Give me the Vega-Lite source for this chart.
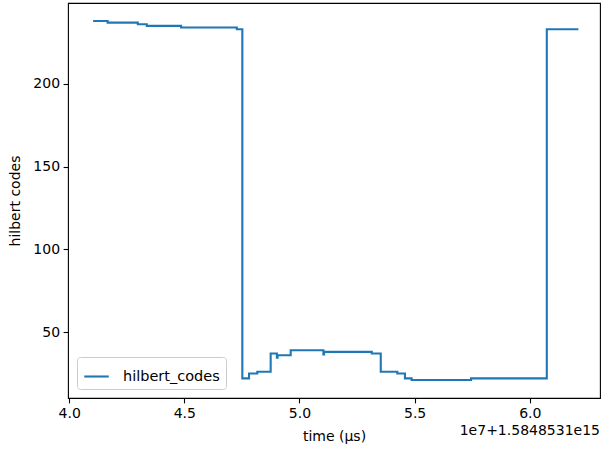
{
  "$schema": "https://vega.github.io/schema/vega-lite/v6.json",
  "width": 532,
  "height": 395,
  "autosize": "none",
  "padding": {"left": 68, "top": 3, "right": 1, "bottom": 51},
  "background": "white",
  "title": {
    "text": "1e7+1.5848531e15",
    "orient": "bottom",
    "anchor": "end",
    "offset": -19,
    "font": "DejaVu Sans",
    "fontSize": 14,
    "fontWeight": "normal",
    "color": "#000000"
  },
  "config": {
    "view": {"stroke": "#000000", "strokeWidth": 1.1},
    "font": "DejaVu Sans",
    "axis": {
      "domain": false,
      "grid": false,
      "tickColor": "#000000",
      "tickWidth": 1.1,
      "tickSize": 4.9,
      "labelFont": "DejaVu Sans",
      "labelFontSize": 14,
      "labelColor": "#000000",
      "labelPadding": 3.5,
      "titleFont": "DejaVu Sans",
      "titleFontSize": 14,
      "titleFontWeight": "normal",
      "titleColor": "#000000"
    }
  },
  "data": {
    "values": [
      {"time": 4.104, "hilbert_codes": 238, "series": "hilbert_codes"},
      {"time": 4.167, "hilbert_codes": 237, "series": "hilbert_codes"},
      {"time": 4.298, "hilbert_codes": 236, "series": "hilbert_codes"},
      {"time": 4.337, "hilbert_codes": 235, "series": "hilbert_codes"},
      {"time": 4.486, "hilbert_codes": 234, "series": "hilbert_codes"},
      {"time": 4.728, "hilbert_codes": 233, "series": "hilbert_codes"},
      {"time": 4.752, "hilbert_codes": 22, "series": "hilbert_codes"},
      {"time": 4.781, "hilbert_codes": 25, "series": "hilbert_codes"},
      {"time": 4.817, "hilbert_codes": 26, "series": "hilbert_codes"},
      {"time": 4.875, "hilbert_codes": 37, "series": "hilbert_codes"},
      {"time": 4.902, "hilbert_codes": 34.5, "series": "hilbert_codes"},
      {"time": 4.905, "hilbert_codes": 36, "series": "hilbert_codes"},
      {"time": 4.962, "hilbert_codes": 39, "series": "hilbert_codes"},
      {"time": 5.104, "hilbert_codes": 36.5, "series": "hilbert_codes"},
      {"time": 5.107, "hilbert_codes": 38, "series": "hilbert_codes"},
      {"time": 5.314, "hilbert_codes": 37, "series": "hilbert_codes"},
      {"time": 5.353, "hilbert_codes": 26, "series": "hilbert_codes"},
      {"time": 5.425, "hilbert_codes": 25, "series": "hilbert_codes"},
      {"time": 5.458, "hilbert_codes": 22, "series": "hilbert_codes"},
      {"time": 5.487, "hilbert_codes": 21, "series": "hilbert_codes"},
      {"time": 5.745, "hilbert_codes": 22, "series": "hilbert_codes"},
      {"time": 6.074, "hilbert_codes": 233, "series": "hilbert_codes"},
      {"time": 6.211, "hilbert_codes": 233, "series": "hilbert_codes"}
    ]
  },
  "mark": {"type": "line", "interpolate": "step-after", "strokeWidth": 2.1},
  "encoding": {
    "x": {
      "field": "time",
      "type": "quantitative",
      "title": "time (μs)",
      "scale": {"domain": [3.995, 6.305], "nice": false, "zero": false},
      "axis": {"values": [4.0, 4.5, 5.0, 5.5, 6.0], "format": ".1f", "titlePadding": 9}
    },
    "y": {
      "field": "hilbert_codes",
      "type": "quantitative",
      "title": "hilbert codes",
      "scale": {"domain": [10.15, 248.85], "nice": false, "zero": false},
      "axis": {"values": [50, 100, 150, 200], "titlePadding": 10}
    },
    "color": {
      "field": "series",
      "type": "nominal",
      "scale": {"range": ["#1f77b4"]},
      "legend": {
        "title": null,
        "orient": "bottom-left",
        "offset": 9,
        "symbolType": "stroke",
        "symbolSize": 600,
        "symbolStrokeWidth": 2.1,
        "labelFont": "DejaVu Sans",
        "labelFontSize": 14.5,
        "labelColor": "#000000",
        "fillColor": "white",
        "strokeColor": "#cccccc",
        "cornerRadius": 3,
        "padding": 6,
        "labelOffset": 13
      }
    }
  }
}
